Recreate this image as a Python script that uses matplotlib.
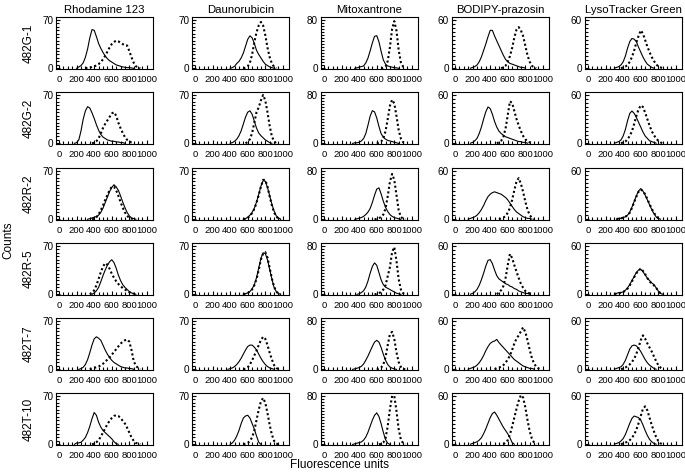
import matplotlib
matplotlib.use("Agg")
import matplotlib.pyplot as plt
import numpy as np

cell_lines = ["482G-1", "482G-2", "482R-2", "482R-5", "482T-7", "482T-10"]
dyes = ["Rhodamine 123", "Daunorubicin", "Mitoxantrone", "BODIPY-prazosin", "LysoTracker Green"]
y_tops = [70, 70, 80, 60, 60]
x_ticks = [0, 200, 400, 600, 800, 1000]
bin_step = 25

# one (first channel, counts every 25 channels) pair per cell line, top to bottom
rho_solid = [
    (200, [0, 2, 4, 8, 16, 28, 44, 56, 55, 46, 36, 29, 23, 18, 14, 11, 9, 7, 5, 4, 3, 2, 1.5, 1, 1, 0.5, 0]),
    (175, [0, 1, 5, 18, 35, 47, 53, 51, 44, 36, 27, 19, 13, 9, 7, 5, 4, 3, 3, 2, 2, 1, 1, 0]),
    (325, [0, 1, 2, 3, 4, 6, 10, 16, 24, 32, 40, 46, 50, 47, 42, 34, 25, 17, 10, 5, 2, 1, 0]),
    (375, [0, 2, 5, 10, 18, 27, 35, 42, 47, 50, 46, 38, 28, 20, 14, 10, 7, 4, 2, 1, 0]),
    (225, [0, 1, 3, 7, 14, 24, 35, 44, 47, 45, 42, 35, 28, 22, 17, 13, 10, 8, 6, 4, 3, 2, 2, 1, 1, 0]),
    (175, [0, 2, 2, 3, 6, 10, 17, 26, 37, 46, 42, 32, 25, 20, 17, 14, 11, 8, 4, 1, 0]),
]
rho_dotted = [
    (300, [0, 1, 1, 2, 3, 4, 6, 9, 13, 18, 24, 30, 35, 38, 40, 39, 37, 35, 33, 33, 25, 16, 8, 3, 1, 0]),
    (375, [0, 1, 3, 7, 14, 22, 28, 33, 38, 43, 45, 40, 30, 22, 15, 9, 5, 3, 1, 0]),
    (375, [0, 1, 3, 7, 13, 20, 28, 35, 42, 47, 47, 42, 34, 25, 17, 10, 5, 2, 1, 0]),
    (350, [0, 2, 6, 13, 22, 32, 40, 45, 43, 37, 30, 24, 19, 15, 12, 9, 7, 5, 3, 2, 1, 0]),
    (350, [0, 1, 2, 3, 4, 6, 8, 11, 14, 17, 21, 25, 29, 33, 37, 40, 42, 43, 40, 28, 12, 5, 2, 0]),
    (375, [0, 1, 3, 6, 11, 17, 23, 29, 34, 38, 41, 42, 41, 38, 34, 30, 24, 17, 10, 5, 2, 1, 0]),
]
dau_solid = [
    (400, [0, 1, 3, 7, 10, 15, 22, 32, 42, 47, 44, 36, 26, 20, 15, 10, 6, 4, 2, 1, 0]),
    (400, [0, 1, 3, 6, 11, 18, 28, 38, 45, 47, 42, 32, 22, 15, 11, 8, 5, 3, 1, 0]),
    (550, [0, 1, 3, 6, 10, 16, 25, 36, 48, 56, 55, 46, 34, 22, 12, 5, 2, 0]),
    (550, [0, 1, 2, 4, 8, 14, 24, 38, 52, 60, 59, 50, 36, 22, 10, 4, 1, 0]),
    (375, [0, 1, 2, 4, 7, 11, 16, 22, 28, 33, 35, 35, 32, 28, 22, 16, 11, 7, 4, 2, 1, 0]),
    (400, [0, 2, 6, 12, 20, 30, 38, 41, 42, 38, 30, 22, 12, 3, 0]),
]
dau_dotted = [
    (550, [0, 1, 3, 8, 20, 38, 52, 62, 67, 62, 48, 30, 16, 7, 2, 0]),
    (575, [0, 2, 6, 15, 30, 45, 52, 62, 70, 62, 45, 25, 10, 3, 0]),
    (550, [0, 1, 2, 5, 9, 15, 24, 35, 47, 57, 57, 47, 33, 20, 10, 4, 1, 0]),
    (550, [0, 1, 2, 4, 7, 13, 22, 35, 50, 59, 61, 53, 38, 23, 11, 4, 1, 0]),
    (550, [0, 1, 3, 7, 13, 20, 27, 35, 42, 47, 44, 35, 24, 14, 6, 2, 0]),
    (550, [0, 1, 2, 5, 10, 20, 35, 50, 62, 67, 60, 45, 28, 14, 5, 1, 0]),
]
mito_solid = [
    (350, [0, 1, 2, 3, 4, 9, 17, 29, 42, 53, 54, 44, 28, 14, 7, 4, 3, 2, 1, 1, 0]),
    (325, [0, 1, 1, 2, 4, 8, 16, 30, 45, 54, 52, 42, 28, 16, 10, 7, 5, 4, 3, 2, 1, 0]),
    (350, [0, 1, 2, 3, 5, 8, 12, 18, 28, 40, 50, 52, 42, 30, 20, 13, 8, 5, 3, 2, 1, 0]),
    (375, [0, 1, 3, 6, 12, 22, 35, 46, 52, 48, 36, 24, 16, 12, 10, 8, 6, 4, 2, 1, 0]),
    (325, [0, 1, 2, 3, 5, 9, 15, 22, 30, 38, 45, 48, 45, 36, 25, 15, 8, 4, 2, 1, 0]),
    (325, [0, 1, 2, 3, 4, 7, 12, 20, 30, 40, 48, 52, 46, 34, 20, 8, 2, 0]),
]
mito_dotted = [
    (650, [0, 1, 3, 12, 35, 65, 78, 62, 30, 10, 3, 0]),
    (600, [0, 1, 3, 8, 20, 40, 62, 72, 66, 45, 22, 8, 2, 0]),
    (575, [0, 1, 2, 4, 8, 18, 38, 62, 75, 65, 40, 15, 4, 1, 0]),
    (575, [0, 1, 2, 4, 8, 15, 30, 45, 70, 78, 55, 25, 8, 2, 0]),
    (600, [0, 1, 3, 8, 20, 40, 58, 62, 50, 28, 12, 4, 1, 0]),
    (625, [0, 1, 3, 10, 30, 58, 80, 80, 55, 25, 8, 2, 0]),
]
bod_solid = [
    (175, [0, 1, 2, 4, 8, 14, 22, 30, 39, 47, 47, 40, 34, 28, 22, 16, 11, 8, 6, 5, 4, 3, 2, 1, 1, 0]),
    (175, [0, 1, 3, 6, 12, 20, 30, 39, 45, 43, 36, 27, 20, 15, 12, 10, 8, 7, 6, 5, 4, 3, 2, 2, 1, 1, 0]),
    (150, [0, 1, 2, 3, 5, 8, 12, 17, 23, 28, 31, 33, 34, 33, 32, 31, 29, 27, 24, 20, 16, 12, 9, 7, 5, 3, 2, 1, 1, 0]),
    (175, [0, 1, 3, 6, 11, 18, 26, 35, 42, 43, 38, 30, 23, 19, 17, 15, 13, 12, 10, 9, 7, 6, 4, 3, 2, 1, 1, 0]),
    (150, [0, 1, 2, 3, 5, 8, 12, 17, 23, 28, 32, 34, 35, 37, 33, 30, 27, 24, 21, 18, 15, 12, 10, 8, 6, 4, 3, 2, 1, 1, 0]),
    (175, [0, 1, 2, 3, 5, 8, 13, 19, 26, 33, 38, 40, 36, 31, 26, 21, 17, 13, 8, 2, 0]),
]
bod_dotted = [
    (525, [0, 1, 3, 8, 15, 25, 38, 48, 51, 47, 40, 28, 16, 8, 3, 1, 0]),
    (475, [0, 1, 3, 8, 18, 35, 52, 50, 40, 30, 22, 15, 9, 5, 2, 1, 0]),
    (500, [0, 1, 2, 4, 8, 14, 24, 36, 47, 51, 44, 34, 22, 12, 5, 2, 0]),
    (475, [0, 2, 5, 10, 20, 36, 50, 45, 36, 28, 20, 13, 8, 4, 2, 1, 0]),
    (450, [0, 1, 2, 3, 5, 8, 12, 17, 24, 32, 38, 42, 47, 52, 46, 36, 24, 14, 7, 3, 1, 0]),
    (550, [0, 2, 5, 12, 22, 33, 44, 54, 61, 58, 46, 30, 16, 7, 2, 0]),
]
lyso_solid = [
    (300, [0, 1, 2, 4, 8, 15, 25, 33, 37, 36, 33, 26, 20, 14, 9, 5, 3, 1, 0]),
    (300, [0, 1, 2, 4, 9, 17, 28, 37, 40, 37, 32, 26, 20, 14, 9, 6, 3, 2, 1, 0]),
    (325, [0, 1, 1, 2, 3, 5, 9, 15, 22, 29, 35, 38, 35, 30, 24, 18, 12, 7, 3, 1, 0]),
    (300, [0, 1, 2, 2, 3, 5, 8, 12, 17, 22, 27, 30, 31, 28, 24, 20, 17, 14, 12, 8, 4, 1, 0]),
    (300, [0, 1, 2, 3, 6, 11, 18, 25, 29, 30, 29, 26, 22, 17, 12, 8, 5, 3, 1, 0]),
    (300, [0, 1, 2, 4, 7, 12, 19, 26, 32, 35, 34, 33, 30, 24, 17, 11, 6, 3, 1, 0]),
]
lyso_dotted = [
    (375, [0, 1, 2, 4, 8, 14, 22, 32, 40, 47, 43, 35, 27, 20, 14, 9, 5, 2, 1, 0]),
    (375, [0, 1, 2, 5, 9, 15, 24, 34, 42, 47, 45, 38, 30, 22, 15, 10, 6, 3, 1, 0]),
    (325, [0, 1, 1, 2, 3, 5, 8, 14, 21, 28, 34, 37, 35, 31, 25, 19, 13, 8, 4, 1, 0]),
    (300, [0, 1, 1, 2, 3, 4, 7, 11, 16, 21, 26, 29, 32, 29, 25, 20, 16, 13, 11, 8, 4, 1, 0]),
    (375, [0, 1, 2, 4, 6, 9, 13, 19, 27, 36, 42, 38, 32, 27, 22, 16, 10, 5, 2, 0]),
    (375, [0, 1, 2, 3, 5, 8, 12, 18, 26, 35, 44, 47, 42, 33, 24, 16, 9, 4, 1, 0]),
]

solid_sets = [rho_solid, dau_solid, mito_solid, bod_solid, lyso_solid]
dotted_sets = [rho_dotted, dau_dotted, mito_dotted, bod_dotted, lyso_dotted]

plt.rcParams['font.family'] = ['Liberation Sans', 'DejaVu Sans']

W, H = 685, 476
col_left = [56, 192, 321, 452, 585]
row_top = [17, 92, 168, 243, 318, 393]
ax_w, ax_h = 97, 52


def draw_panel(ax, solid, dotted, ytop):
    start, vals = solid
    xs = start + bin_step * np.arange(len(vals))
    ax.plot(xs, vals, color="black", lw=0.8)
    start, vals = dotted
    xs = start + bin_step * np.arange(len(vals))
    ax.plot(xs, vals, color="black", lw=1.5, linestyle=(0, (1, 1.2)))

    ax.set_xlim(-35, 1070)
    ax.set_ylim(-1, ytop * 1.06)
    ax.set_xticks(x_ticks)
    ax.set_xticks(np.arange(0, 1001, 50), minor=True)
    ax.set_yticks([0, ytop])
    ax.set_yticks(np.arange(0, ytop + 1, 5), minor=True)
    ax.tick_params(which="both", direction="in", width=0.8, labelsize=6.8, pad=4)
    ax.tick_params(axis="y", labelsize=7.2, pad=2)
    ax.tick_params(which="major", length=3)
    ax.tick_params(which="minor", length=2)
    for sp in ax.spines.values():
        sp.set_linewidth(0.8)


def main():
    fig = plt.figure(figsize=(W / 100, H / 100), dpi=100)
    for r, line in enumerate(cell_lines):
        for c, dye in enumerate(dyes):
            ax = fig.add_axes([col_left[c] / W, 1 - (row_top[r] + ax_h) / H, ax_w / W, ax_h / H])
            draw_panel(ax, solid_sets[c][r], dotted_sets[c][r], y_tops[c])
            if r == 0:
                ax.set_title(dye, fontsize=8.2, pad=3)
            if c == 0:
                ax.set_ylabel(line, fontsize=8.5, labelpad=5)

    fig.text(8 / W, 1 - 240 / H, "Counts", rotation=90, ha="center", va="center", fontsize=8.5)
    fig.text(340 / W, 1 - 465 / H, "Fluorescence units", ha="center", va="center", fontsize=8.5)
    fig.savefig("out.png", dpi=100)


if __name__ == "__main__":
    main()
